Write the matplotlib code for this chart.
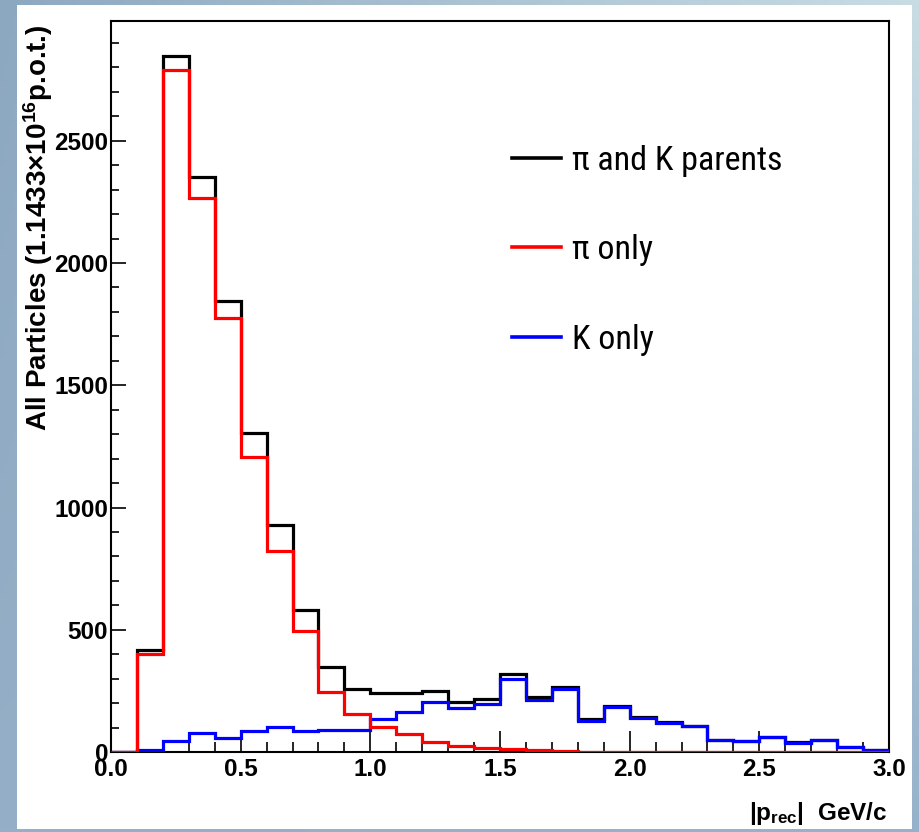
import numpy as np
import matplotlib
matplotlib.use("Agg")
import matplotlib.pyplot as plt
from matplotlib.lines import Line2D
from matplotlib.patches import Rectangle
from matplotlib.ticker import MultipleLocator, FormatStrFormatter

plt.rcParams['font.family'] = ['Liberation Sans', 'DejaVu Sans']
plt.rcParams['mathtext.fontset'] = 'custom'
plt.rcParams['mathtext.rm'] = 'Liberation Sans:bold'
plt.rcParams['mathtext.bf'] = 'Liberation Sans:bold'
plt.rcParams['mathtext.default'] = 'bf'

# momentum bins, 0.1 GeV/c wide
edges = [round(0.1 * i, 1) for i in range(31)]

# pi and K parents (total)
counts_all = [0, 416, 2847, 2350, 1843, 1305, 929, 579, 348, 256,
              243, 243, 249, 205, 216, 321, 225, 266, 133, 188,
              142, 121, 107, 50, 46, 61, 39, 50, 20, 9]
# pi only
counts_pi = [0, 402, 2790, 2266, 1777, 1207, 823, 493, 246, 154,
             103, 72, 40, 26, 15, 11, 7, 6, 2, 2,
             1, 1, 1, 0, 0, 0, 0, 0, 0, 0]
# K only
counts_k = [0, 8, 46, 76, 56, 86, 101, 86, 90, 90,
            133, 164, 205, 178, 196, 300, 212, 256, 128, 185,
            140, 120, 106, 49, 45, 60, 38, 49, 19, 8]

labels = ["\u03c0 and K parents", "\u03c0 only", "K only"]

W, H = 919, 832
fig = plt.figure(figsize=(W / 100, H / 100), dpi=100)

# slide-like gradient frame behind the white panel
bg = fig.add_axes([0, 0, 1, 1], zorder=-10)
tl = np.array([140, 168, 192]) / 255
tr = np.array([200, 220, 228]) / 255
bl = np.array([150, 175, 200]) / 255
br = np.array([150, 178, 202]) / 255
u = np.linspace(0, 1, 200)[None, :, None]
v = np.linspace(0, 1, 200)[:, None, None]
grad = (1 - v) * ((1 - u) * tl + u * tr) + v * ((1 - u) * bl + u * br)
bg.imshow(grad, extent=[0, 1, 0, 1], aspect='auto', origin='upper')
bg.add_patch(Rectangle((17 / W, 1 - 829 / H), (912 - 17) / W, (829 - 5) / H,
                       facecolor='white', edgecolor='none'))
bg.set_xlim(0, 1)
bg.set_ylim(0, 1)
bg.axis('off')

ax = fig.add_axes([111 / W, 1 - 752 / H, (889 - 111) / W, (752 - 21) / H])
ax.set_facecolor('white')

ax.stairs(counts_all, edges, baseline=0, color='black', lw=2.3, zorder=3)
ax.stairs(counts_k, edges, baseline=0, color='blue', lw=2.3, zorder=4)
ax.stairs(counts_pi, edges, baseline=0, color='red', lw=2.3, zorder=5)

ax.set_xlim(0, 3.0)
ax.set_ylim(0, 2990)

ax.xaxis.set_major_locator(MultipleLocator(0.5))
ax.xaxis.set_minor_locator(MultipleLocator(0.1))
ax.yaxis.set_major_locator(MultipleLocator(500))
ax.yaxis.set_minor_locator(MultipleLocator(100))
ax.xaxis.set_major_formatter(FormatStrFormatter('%.1f'))
ax.yaxis.set_major_formatter(FormatStrFormatter('%d'))

ax.tick_params(axis='x', which='major', direction='in', length=15, width=1.2,
               labelsize=17.5, pad=4)
ax.tick_params(axis='x', which='minor', direction='in', length=7.5, width=1.2)
ax.tick_params(axis='y', which='major', direction='in', length=11, width=1.2,
               labelsize=17.5, pad=2)
ax.tick_params(axis='y', which='minor', direction='in', length=6, width=1.2)
for lab in ax.get_xticklabels() + ax.get_yticklabels():
    lab.set_fontweight('bold')
for s in ax.spines.values():
    s.set_linewidth(1.5)

# axis titles, ROOT style (aligned to the axis ends)
fig.text(887 / W, 1 - 820 / H, r"|p$_{\mathbf{rec}}$|  GeV/c", ha='right',
         va='baseline', fontsize=17.5, fontweight='bold')
fig.text(38 / W, 1 - 24 / H, r"All Particles (1.1433×10$^{16}$p.o.t.)",
         rotation=90, ha='center', va='top', fontsize=20, fontweight='bold')

handles = [Line2D([], [], color='black', lw=2.6),
           Line2D([], [], color='red', lw=2.6),
           Line2D([], [], color='blue', lw=2.6)]
ax.legend(handles, labels, loc='upper left', bbox_to_anchor=(0.5154, 0.831),
          frameon=False, borderpad=0, borderaxespad=0,
          handlelength=1.44, handletextpad=0.32, labelspacing=1.7,
          prop={'family': ['Roboto Condensed', 'Liberation Sans'], 'size': 24.5})

fig.savefig("out.png", dpi=100)
